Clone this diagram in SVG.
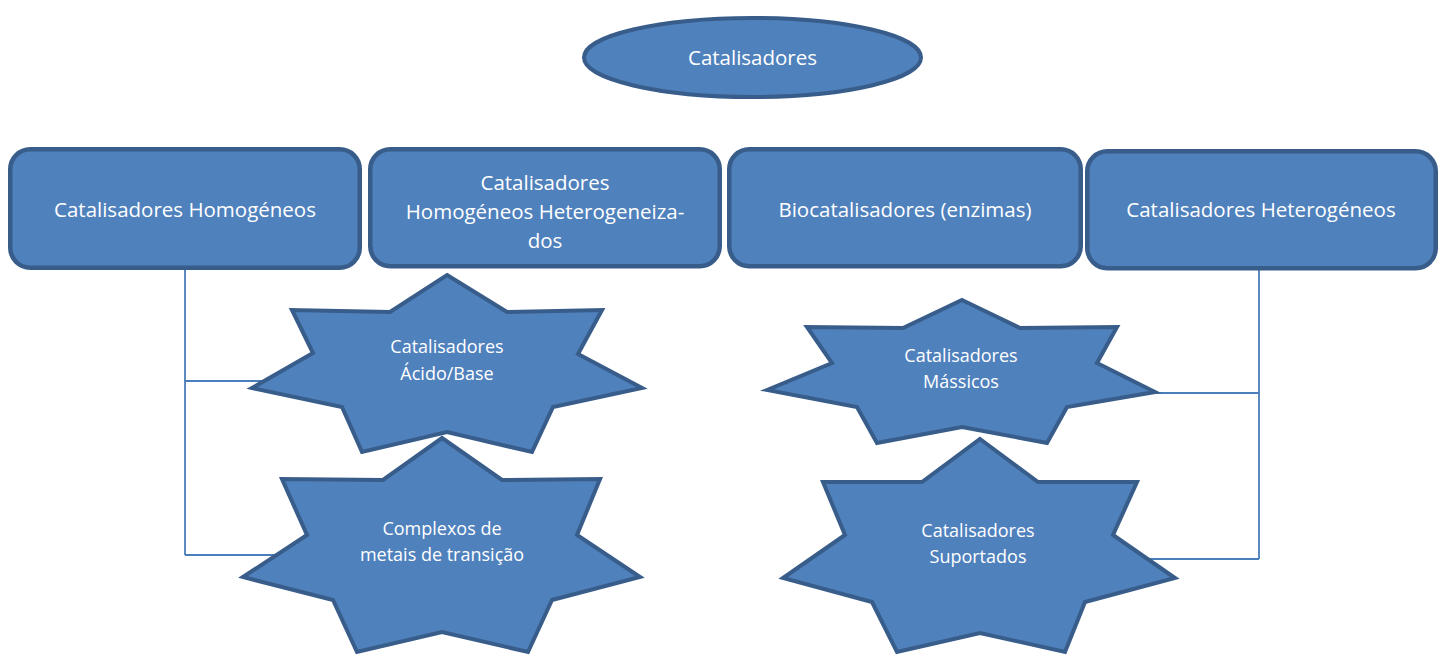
<svg xmlns="http://www.w3.org/2000/svg" width="1441" height="655" viewBox="0 0 1441 655">
<style>
.shape{fill:#4f81bd;stroke:#385d8a;stroke-width:4;stroke-linejoin:miter}
.box{fill:#4f81bd;stroke:#385d8a;stroke-width:4.5}
.conn{fill:none;stroke:#4a7ebb;stroke-width:1.8}
.t{font-family:"Open Sans","Noto Sans",sans-serif;fill:#ffffff;text-anchor:middle}
.big{font-size:20.5px}
.small{font-size:18px}
</style>
<rect width="1441" height="655" fill="#ffffff"/>
<g id="connectors">
<path class="conn" d="M185 268 V555 M185 381 H285 M185 555 H290"/>
<path class="conn" d="M1259 268 V559 M1150 393 H1259 M1140 559 H1259"/>
</g>
<g id="catalisadores">
<ellipse class="shape" cx="752.5" cy="57.5" rx="168.5" ry="39.5"/>
<text class="t big" x="752.5" y="65">Catalisadores</text>
</g>
<g id="homogeneos">
<rect class="box" x="10.25" y="149.25" width="349.5" height="118.5" rx="20"/>
<text class="t big" x="185" y="217">Catalisadores Homogéneos</text>
</g>
<g id="homogeneos-heterogeneizados">
<rect class="box" x="370.25" y="149.25" width="349.5" height="117" rx="20"/>
<text class="t big" x="545" y="190">Catalisadores</text>
<text class="t big" x="545" y="219">Homogéneos Heterogeneiza-</text>
<text class="t big" x="545" y="248">dos</text>
</g>
<g id="biocatalisadores">
<rect class="box" x="729.25" y="149.25" width="351.5" height="117" rx="20"/>
<text class="t big" x="905" y="217">Biocatalisadores (enzimas)</text>
</g>
<g id="heterogeneos">
<rect class="box" x="1087.25" y="151.25" width="348.5" height="117" rx="20"/>
<text class="t big" x="1261" y="217">Catalisadores Heterogéneos</text>
</g>
<g id="acido-base">
<polygon class="shape" points="447,275 507,312 602,310 578,354 642,388 553,407 532,452 447,432 362,452 342,407 252,388 313,353 292,310 390,312"/>
<text class="t small" x="447" y="353">Catalisadores</text>
<text class="t small" x="447" y="380">Ácido/Base</text>
</g>
<g id="complexos">
<polygon class="shape" points="442,438 502,480 600,479 577,535 640,577 552,600 528,652 442,632 357,652 333,600 243,577 307,535 282,479 383,480"/>
<text class="t small" x="442" y="535">Complexos de</text>
<text class="t small" x="442" y="561">metais de transição</text>
</g>
<g id="massicos">
<polygon class="shape" points="962,300 1020,328 1117,327 1097,363 1155,392 1067,407 1047,443 962,427 877,443 857,407 767,390 832,363 807,327 903,328"/>
<text class="t small" x="961" y="362">Catalisadores</text>
<text class="t small" x="961" y="388">Mássicos</text>
</g>
<g id="suportados">
<polygon class="shape" points="980,439 1038,482 1137,482 1113,535 1175,578 1085,602 1065,652 980,633 897,652 872,602 783,578 845,535 823,482 922,482"/>
<text class="t small" x="978" y="537">Catalisadores</text>
<text class="t small" x="978" y="563">Suportados</text>
</g>
</svg>
